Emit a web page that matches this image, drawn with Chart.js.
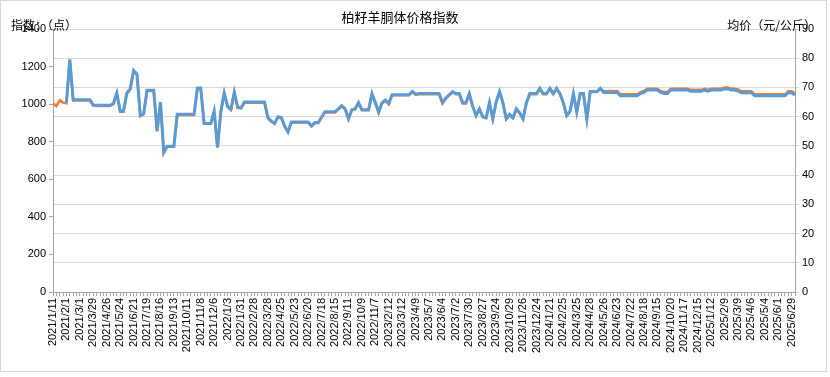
<!DOCTYPE html>
<html><head><meta charset="utf-8">
<script src="https://cdn.jsdelivr.net/npm/chart.js@4.4.0/dist/chart.umd.min.js"></script>
<style>
 html,body{margin:0;padding:0;background:#fff;}
 #box{position:relative;width:830px;height:377px;}
</style>
</head>
<body>
<div id="box"><canvas id="myChart"></canvas></div>
<script>
// x tick labels, one every 4 weekly points
var tickLabels = ['2021/1/11','2021/2/1','2021/3/1','2021/3/29','2021/4/26','2021/5/24','2021/6/21','2021/7/19',
  '2021/8/16','2021/9/13','2021/10/11','2021/11/8','2021/12/6','2022/1/3','2022/1/31','2022/2/28','2022/3/28',
  '2022/4/25','2022/5/23','2022/6/20','2022/7/18','2022/8/15','2022/9/11','2022/10/9','2022/11/7','2023/2/12',
  '2023/3/12','2023/4/9','2023/5/7','2023/6/4','2023/7/2','2023/7/30','2023/8/27','2023/9/24','2023/10/29',
  '2023/11/26','2023/12/24','2024/1/21','2024/2/25','2024/3/25','2024/4/28','2024/5/26','2024/6/23','2024/7/22',
  '2024/8/18','2024/9/15','2024/10/20','2024/11/17','2024/12/15','2025/1/12','2025/2/9','2025/3/9','2025/4/6',
  '2025/5/4','2025/6/1','2025/6/29'];

// 指数（点）
var indexPts = [
 1005,990,1020,1008,1005,1234,1020,1020,1020,1020,
 1020,1020,992,990,990,990,990,990,1000,1056,
 960,960,1056,1077,1175,1157,937,946,1070,1070,
 1070,855,1007,741,773,773,773,942,942,942,
 942,942,942,1082,1082,895,895,895,960,768,
 960,1056,986,969,1060,980,977,1007,1007,1007,
 1007,1007,1007,1007,925,907,895,930,925,881,
 850,902,902,902,902,902,902,881,899,899,
 928,956,956,956,956,972,989,972,920,968,
 972,1004,968,968,968,1052,1004,955,1004,1018,
 1000,1047,1047,1047,1047,1047,1047,1064,1050,1052,
 1052,1052,1052,1052,1052,1052,1004,1030,1047,1064,
 1052,1052,1004,1004,1052,986,937,972,930,925,
 1004,920,1010,1064,1004,920,942,925,972,951,
 920,1004,1052,1052,1052,1081,1052,1052,1081,1052,
 1081,1052,1004,937,960,1052,955,1052,1052,920,
 1064,1064,1064,1081,1069,1069,1070,1070,1070,1052,
 1052,1052,1052,1052,1052,1064,1070,1082,1082,1082,
 1082,1070,1064,1064,1082,1082,1082,1082,1082,1082,
 1076,1076,1076,1076,1082,1076,1082,1082,1082,1082,
 1088,1088,1082,1082,1078,1068,1068,1068,1068,1052,
 1052,1052,1052,1052,1052,1052,1052,1052,1052,1068,
 1068,1056];

// 均价（元/公斤）
var pricePts = [
 null,null,null,null,64.8,79.6,65.8,65.8,65.8,65.8,
 65.8,65.8,64.0,63.9,63.9,63.9,63.9,63.9,64.5,68.1,
 61.9,61.9,68.1,69.5,75.8,74.6,60.4,61.0,69.0,69.0,
 69.0,55.1,65.0,47.8,49.9,49.9,49.9,60.8,60.8,60.8,
 60.8,60.8,60.8,69.8,69.8,57.7,57.7,57.7,61.9,49.5,
 61.9,68.1,63.6,62.5,68.4,63.2,63.0,65.0,65.0,65.0,
 65.0,65.0,65.0,65.0,59.7,58.5,57.7,60.0,59.7,56.8,
 54.8,58.2,58.2,58.2,58.2,58.2,58.2,56.8,58.0,58.0,
 59.9,61.7,61.7,61.7,61.7,62.7,63.8,62.7,59.3,62.4,
 62.7,64.8,62.4,62.4,62.4,67.9,64.8,61.6,64.8,65.7,
 64.5,67.5,67.5,67.5,67.5,67.5,67.5,68.6,67.7,67.9,
 67.9,67.9,67.9,67.9,67.9,67.9,64.8,66.4,67.5,68.6,
 67.9,67.9,64.8,64.8,67.9,63.6,60.4,62.7,60.0,59.7,
 64.8,59.3,65.1,68.6,64.8,59.3,60.8,59.7,62.7,61.3,
 59.3,64.8,67.9,67.9,67.9,69.7,67.9,67.9,69.7,67.9,
 69.7,67.9,64.8,60.4,61.9,67.9,61.6,67.9,67.9,59.3,
 68.6,68.6,68.6,69.7,68.3,68.3,68.3,68.3,68.3,67.2,
 67.2,67.2,67.2,67.2,67.2,67.9,68.3,69.1,69.1,69.1,
 69.1,68.3,67.9,67.9,69.1,69.1,69.1,69.1,69.1,69.1,
 68.7,68.7,68.7,68.7,69.1,68.7,69.1,69.1,69.1,69.1,
 69.5,69.5,69.1,69.1,68.8,68.2,68.2,68.2,68.2,67.2,
 67.2,67.2,67.2,67.2,67.2,67.2,67.2,67.2,67.2,68.2,
 68.2,67.4];

var categories = indexPts.map(function(v, i){ return i % 4 === 0 && tickLabels[i/4] ? tickLabels[i/4] : ''; });

var tickFont = {family: '"Liberation Sans", Arial, sans-serif', size: 11};
var axisGray = '#a6a6a6';

var decor = {
  id: 'decor',
  beforeDraw: function(chart){
    var c = chart.ctx;
    c.save(); c.fillStyle = '#fff'; c.fillRect(0, 0, chart.width, chart.height); c.restore();
  },
  afterDraw: function(chart){
    var c = chart.ctx;
    c.save();
    c.strokeStyle = '#d9d9d9'; c.lineWidth = 1;
    c.strokeRect(0.5, 0.5, 826, 371);
    c.fillStyle = '#000';
    c.textBaseline = 'middle';
    c.font = '13px "Noto Sans CJK SC"';
    c.textAlign = 'center';
    c.fillText('柏籽羊胴体价格指数', 400, 17);
    c.font = '12px "Noto Sans CJK SC"';
    c.textAlign = 'left';
    c.fillText('指数：（点）', 11, 25);
    c.textAlign = 'right';
    c.fillText('均价（元/公斤）', 816, 25);
    c.restore();
  }
};

var ctx = document.getElementById('myChart');
var myChart = new Chart(ctx, {
  type: 'line',
  data: {
    labels: categories,
    datasets: [{
      label: '均价',
      data: pricePts,
      yAxisID: 'y1',
      borderColor: '#5B9BD5',
      borderWidth: 3,
      pointRadius: 0,
      tension: 0,
      order: 0
    }, {
      label: '指数',
      data: indexPts,
      yAxisID: 'y',
      borderColor: '#ED7D31',
      borderWidth: 2.5,
      pointRadius: 0,
      tension: 0,
      order: 1
    }]
  },
  options: {
    responsive: true,
    maintainAspectRatio: false,
    animation: false,
    layout: {padding: {top: 29, left: 0, right: 0, bottom: 0}},
    plugins: {legend: {display: false}, title: {display: false}, tooltip: {enabled: false}},
    scales: {
      x: {
        offset: false,
        grid: {drawOnChartArea: false, tickLength: 4, color: axisGray},
        border: {color: axisGray},
        ticks: {
          autoSkip: false, minRotation: 90, maxRotation: 90, padding: 2,
          color: '#000', font: tickFont,
          callback: function(v, i){ return categories[i]; }
        },
        afterFit: function(s){ s.height = 85; }
      },
      y: {
        position: 'left', min: 0, max: 1400,
        grid: {drawOnChartArea: false, tickLength: 4, color: axisGray},
        border: {color: axisGray},
        ticks: {stepSize: 200, autoSkip: false, color: '#000', font: tickFont, padding: 3,
          callback: function(v){ return String(v); }},
        afterFit: function(s){ s.width = 53; }
      },
      y1: {
        position: 'right', min: 0, max: 90,
        grid: {drawOnChartArea: true, tickLength: 4, color: '#d9d9d9'},
        border: {color: axisGray},
        ticks: {stepSize: 10, autoSkip: false, color: '#000', font: tickFont, padding: 3,
          callback: function(v){ return String(v); }},
        afterFit: function(s){ s.width = 35; }
      }
    }
  },
  plugins: [decor]
});
</script>
</body></html>
